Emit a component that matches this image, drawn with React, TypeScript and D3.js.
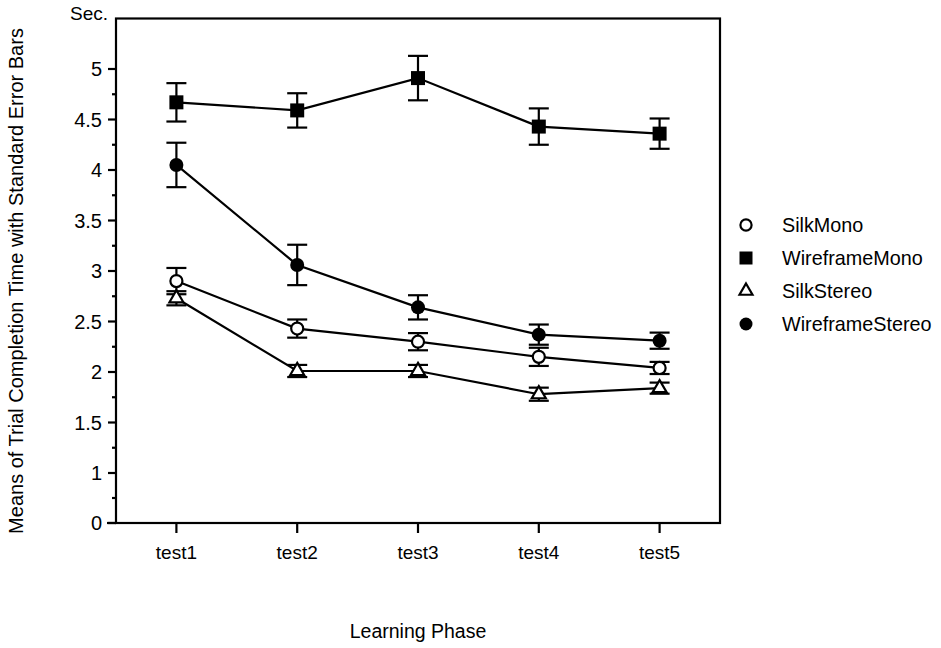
import React, { useRef, useEffect } from 'react';
import * as d3 from 'd3';

const phases = ['test1', 'test2', 'test3', 'test4', 'test5'];

const seriesNames = ['SilkMono', 'WireframeMono', 'SilkStereo', 'WireframeStereo'];
const silkMono = [2.9, 2.43, 2.3, 2.15, 2.04];
const silkMonoErr = [0.13, 0.09, 0.085, 0.09, 0.06];
const wireframeMono = [4.67, 4.59, 4.91, 4.43, 4.36];
const wireframeMonoErr = [0.19, 0.17, 0.22, 0.18, 0.15];
const silkStereo = [2.73, 2.01, 2.01, 1.78, 1.84];
const silkStereoErr = [0.07, 0.06, 0.06, 0.065, 0.055];
const wireframeStereo = [4.05, 3.06, 2.64, 2.37, 2.31];
const wireframeStereoErr = [0.22, 0.2, 0.12, 0.1, 0.08];

// labelled ticks (the axis is broken between 0 and 1)
const majorTicks = [0, 1, 1.5, 2, 2.5, 3, 3.5, 4, 4.5, 5];
const minorTicks = [0.5, 1.25, 1.75, 2.25, 2.75, 3.25, 3.75, 4.25, 4.75];

const FONT = '"Liberation Sans", Arial, Helvetica, sans-serif';
const SW = 2.2; // stroke width

const App = () => {
  const svgRef = useRef(null);

  useEffect(() => {
    document.body.style.margin = '0';
    const svg = d3.select(svgRef.current);
    svg.selectAll('*').remove();

    const left = 116;
    const right = 720;
    const top = 18.5;
    const bottom = 523;

    const x = d3.scalePoint().domain(phases).range([left, right]).padding(0.5);
    const y = d3.scaleLinear().domain([0, 1, 5.5]).range([bottom, 473, top]);

    const series = [
      { name: seriesNames[0], values: silkMono, err: silkMonoErr, shape: 'circle', fill: '#fff' },
      { name: seriesNames[1], values: wireframeMono, err: wireframeMonoErr, shape: 'square', fill: '#000' },
      { name: seriesNames[2], values: silkStereo, err: silkStereoErr, shape: 'triangle', fill: '#fff' },
      { name: seriesNames[3], values: wireframeStereo, err: wireframeStereoErr, shape: 'circle', fill: '#000' },
    ];

    // frame
    svg.append('rect')
      .attr('x', left).attr('y', top)
      .attr('width', right - left).attr('height', bottom - top)
      .attr('fill', 'none').attr('stroke', '#000').attr('stroke-width', SW);
    svg.append('line')
      .attr('x1', left - 9).attr('x2', left).attr('y1', bottom).attr('y2', bottom)
      .attr('stroke', '#000').attr('stroke-width', SW);

    // y ticks
    svg.selectAll('.major')
      .data(majorTicks).enter().append('line')
      .attr('x1', left - 8).attr('x2', left)
      .attr('y1', d => y(d)).attr('y2', d => y(d))
      .attr('stroke', '#000').attr('stroke-width', SW);
    svg.selectAll('.minor')
      .data(minorTicks).enter().append('line')
      .attr('x1', left - 4).attr('x2', left)
      .attr('y1', d => y(d)).attr('y2', d => y(d))
      .attr('stroke', '#000').attr('stroke-width', SW);
    svg.selectAll('.ylabel')
      .data(majorTicks).enter().append('text')
      .attr('x', left - 14).attr('y', d => y(d))
      .attr('dy', '0.36em')
      .attr('text-anchor', 'end')
      .attr('font-family', FONT).attr('font-size', 20)
      .text(d => String(d));
    svg.append('text')
      .attr('x', 108).attr('y', 20)
      .attr('text-anchor', 'end')
      .attr('font-family', FONT).attr('font-size', 19)
      .text('Sec.');

    // x ticks
    svg.selectAll('.xtick')
      .data(phases).enter().append('line')
      .attr('x1', d => x(d)).attr('x2', d => x(d))
      .attr('y1', bottom).attr('y2', bottom + 10)
      .attr('stroke', '#000').attr('stroke-width', SW);
    svg.selectAll('.xlabel')
      .data(phases).enter().append('text')
      .attr('x', d => x(d)).attr('y', 559)
      .attr('text-anchor', 'middle')
      .attr('font-family', FONT).attr('font-size', 19)
      .text(d => d);

    // titles
    svg.append('text')
      .attr('x', (left + right) / 2).attr('y', 638)
      .attr('text-anchor', 'middle')
      .attr('font-family', FONT).attr('font-size', 19.5)
      .text('Learning Phase');
    svg.append('text')
      .attr('transform', 'translate(23,281) rotate(-90)')
      .attr('text-anchor', 'middle')
      .attr('font-family', FONT).attr('font-size', 20)
      .text('Means of Trial Completion Time with Standard Error Bars');

    const drawMarker = (g, shape, fill, cx, cy, s) => {
      if (shape === 'circle') {
        const isOpen = fill === '#fff';
        g.append('circle')
          .attr('cx', cx).attr('cy', cy)
          .attr('r', isOpen ? s * 0.43 : s * 0.5)
          .attr('fill', fill)
          .attr('stroke', '#000').attr('stroke-width', isOpen ? SW : 0);
      } else if (shape === 'square') {
        g.append('rect')
          .attr('x', cx - s / 2).attr('y', cy - s / 2)
          .attr('width', s).attr('height', s)
          .attr('fill', fill);
      } else {
        const side = s;
        g.append('path')
          .attr('transform', `translate(${cx},${cy})`)
          .attr('d', d3.symbol().type(d3.symbolTriangle).size((Math.sqrt(3) / 4) * side * side)())
          .attr('fill', fill)
          .attr('stroke', '#000').attr('stroke-width', SW);
      }
    };

    const line = d3.line()
      .x((d, i) => x(phases[i]))
      .y(d => y(d));

    series.forEach(s => {
      const g = svg.append('g');
      g.append('path')
        .attr('d', line(s.values))
        .attr('fill', 'none').attr('stroke', '#000').attr('stroke-width', SW);

      s.values.forEach((v, i) => {
        const cx = x(phases[i]);
        const hi = y(v + s.err[i]);
        const lo = y(v - s.err[i]);
        g.append('line').attr('x1', cx).attr('x2', cx).attr('y1', hi).attr('y2', lo)
          .attr('stroke', '#000').attr('stroke-width', SW);
        [hi, lo].forEach(cy => {
          g.append('line').attr('x1', cx - 10).attr('x2', cx + 10).attr('y1', cy).attr('y2', cy)
            .attr('stroke', '#000').attr('stroke-width', SW);
        });
      });

      s.values.forEach((v, i) => {
        drawMarker(g, s.shape, s.fill, x(phases[i]), y(v), 14);
      });
    });

    // legend
    const legendY = d3.scalePoint().domain(seriesNames).range([225, 324]);
    series.forEach(s => {
      const cy = legendY(s.name);
      drawMarker(svg, s.shape, s.fill, 746, cy, 13);
      svg.append('text')
        .attr('x', 782).attr('y', cy).attr('dy', '0.36em')
        .attr('font-family', FONT).attr('font-size', 19.8)
        .text(s.name);
    });
  }, []);

  return <svg ref={svgRef} width={941} height={648} style={{ display: 'block', background: '#fff' }} />;
};

export default App;
